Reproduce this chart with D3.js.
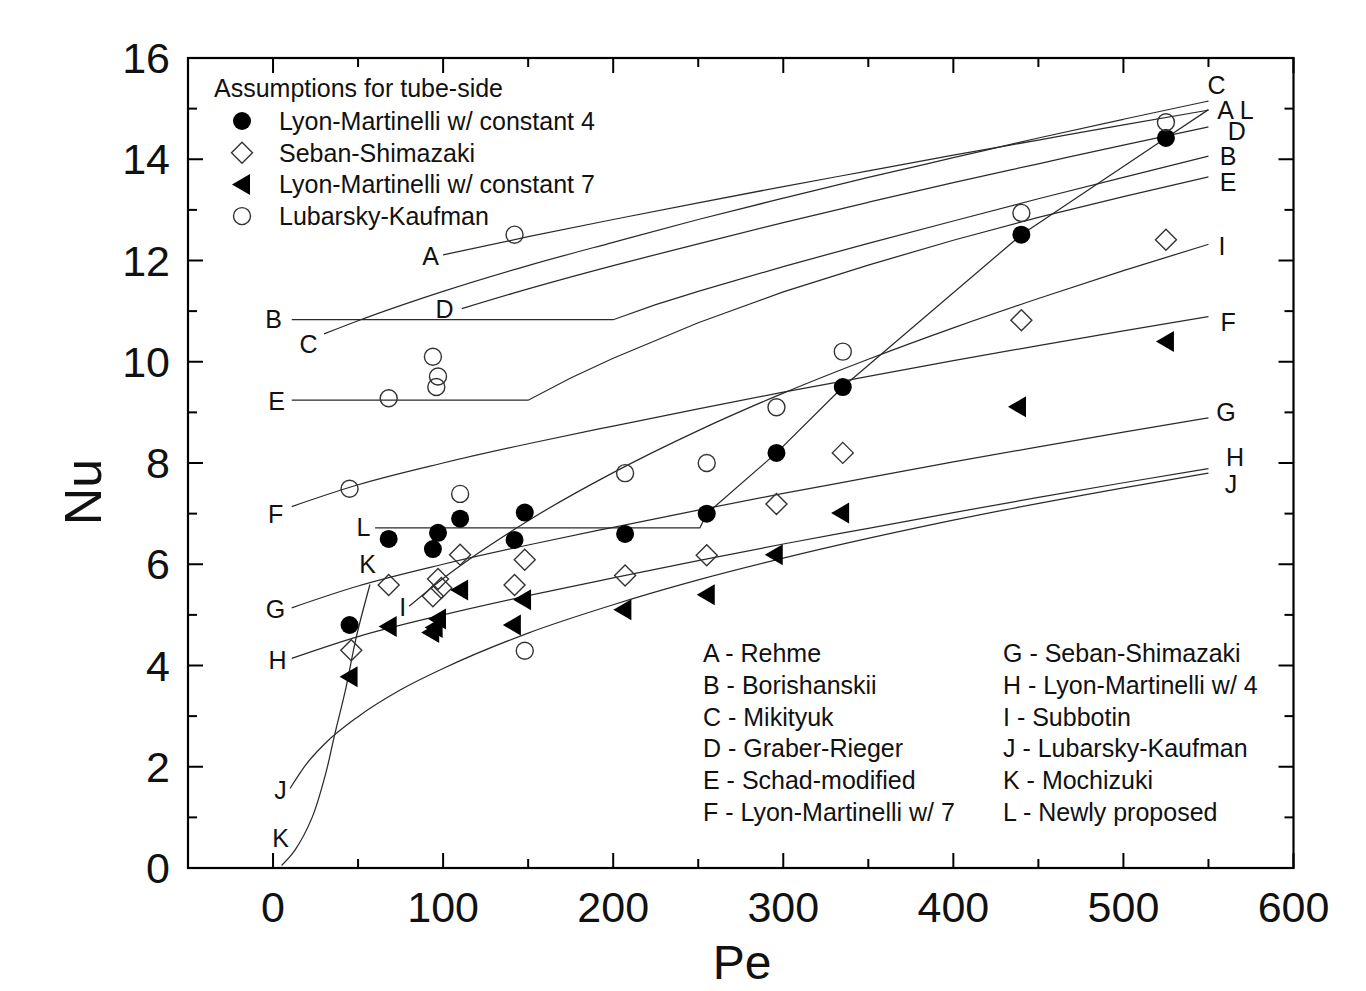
<!DOCTYPE html>
<html>
<head>
<meta charset="utf-8">
<script src="https://d3js.org/d3.v7.min.js"></script>
<style>
  body { margin: 0; background: #fff; }
  svg text { font-family: "Liberation Sans", Arial, sans-serif; fill: #111; }
</style>
</head>
<body>
<script>
// ---- data ----
// measured points (Pe, Nu)
let lm4Pts = [[45,4.8],[68,6.5],[94,6.3],[97,6.62],[110,6.9],[142,6.48],[148,7.02],[207,6.6],[255,7.0],[296,8.2],[335,9.5],[440,12.51],[525,14.42]];
let ssPts  = [[46,4.3],[68,5.59],[94,5.37],[97,5.71],[99,5.53],[110,6.19],[142,5.59],[148,6.09],[207,5.78],[255,6.18],[296,7.19],[335,8.2],[440,10.82],[525,12.41]];
let lm7Pts = [[45,3.78],[68,4.77],[93,4.65],[95,4.75],[97,4.92],[110,5.49],[141,4.8],[147,5.3],[206,5.1],[255,5.4],[295,6.19],[334,7.01],[438,9.11],[525,10.4]];
let lkPts  = [[45,7.49],[68,9.28],[94,10.1],[96,9.5],[97,9.71],[110,7.39],[142,12.51],[148,4.29],[207,7.8],[255,8.0],[296,9.1],[335,10.2],[440,12.94],[525,14.73]];

// correlation curves (Pe, Nu)
let curveA = [[100,12.11],[150,12.47],[200,12.81],[250,13.14],[300,13.46],[350,13.77],[400,14.08],[450,14.38],[500,14.68],[550,14.97]];
let curveB = [[11,10.83],[200,10.83],[225,11.13],[250,11.39],[300,11.88],[350,12.34],[400,12.78],[450,13.22],[500,13.64],[550,14.06]];
let curveC = [[30,10.55],[50,10.81],[100,11.39],[150,11.9],[200,12.36],[250,12.81],[300,13.23],[350,13.64],[400,14.03],[450,14.42],[500,14.79],[550,15.15]];
let curveD = [[111,11.05],[150,11.44],[200,11.9],[250,12.33],[300,12.75],[350,13.15],[400,13.54],[450,13.91],[500,14.28],[550,14.64]];
let curveE = [[11,9.24],[150,9.24],[175,9.68],[200,10.07],[250,10.77],[300,11.38],[350,11.91],[400,12.4],[450,12.85],[500,13.26],[550,13.65]];
let curveF = [[11,7.14],[50,7.57],[100,8.0],[150,8.38],[200,8.73],[250,9.07],[300,9.4],[350,9.71],[400,10.02],[450,10.32],[500,10.61],[550,10.89]];
let curveG = [[11,5.14],[50,5.57],[100,6.0],[150,6.38],[200,6.73],[250,7.07],[300,7.4],[350,7.71],[400,8.02],[450,8.32],[500,8.61],[550,8.89]];
let curveH = [[11,4.14],[50,4.57],[100,5.0],[150,5.38],[200,5.73],[250,6.07],[300,6.4],[350,6.71],[400,7.02],[450,7.32],[500,7.61],[550,7.89]];
let curveI = [[80,5.17],[100,5.72],[150,6.86],[200,7.81],[250,8.64],[300,9.38],[350,10.05],[400,10.67],[450,11.25],[500,11.8],[550,12.32]];
let curveJ = [[10,1.57],[20,2.07],[30,2.44],[50,2.99],[75,3.52],[100,3.94],[150,4.64],[200,5.2],[250,5.69],[300,6.12],[400,6.87],[500,7.51],[550,7.8]];
let curveK = [[5,0.05],[13,0.36],[23,1.0],[31,1.87],[36,2.6],[43,3.58],[49,4.57],[57,5.6]];
let curveL = [[60,6.72],[251,6.72],[255,7.0],[296,8.2],[335,9.5],[440,12.51],[525,14.42],[550,14.98]];

// curve letters at their ends (Pe, Nu)
let startLabels = [["A",92.6,12.09],["B",0.3,10.85],["C",20.9,10.36],["D",100.9,11.05],["E",2.1,9.23],["F",1.5,7.0],
                   ["G",1.5,5.12],["H",2.6,4.11],["I",76.2,5.16],["J",4.4,1.54],["K",4.4,0.59],["K",55.6,6.01],["L",53.2,6.74]];
let endLabels = [["C",554.8,15.47],["A",560.1,14.98],["L",572.5,14.98],["D",566.6,14.55],["B",561.6,14.07],["E",561.6,13.56],
                 ["I",557.9,12.29],["F",561.5,10.79],["G",560.3,9.01],["H",565.6,8.12],["J",563.2,7.59]];

let xMajor = [0,100,200,300,400,500,600];
let xMinor = [-50,50,150,250,350,450,550];
let yMajor = [0,2,4,6,8,10,12,14,16];
let yMinor = [1,3,5,7,9,11,13,15];

let markerNames = ["Lyon-Martinelli w/ constant 4","Seban-Shimazaki","Lyon-Martinelli w/ constant 7","Lubarsky-Kaufman"];
let markerTypes = ["filledCircle","diamond","triangle","openCircle"];
let keyLeft  = ["A - Rehme","B - Borishanskii","C - Mikityuk","D - Graber-Rieger","E - Schad-modified","F - Lyon-Martinelli w/ 7"];
let keyRight = ["G - Seban-Shimazaki","H - Lyon-Martinelli w/ 4","I - Subbotin","J - Lubarsky-Kaufman","K - Mochizuki","L - Newly proposed"];

// ---- drawing ----
let width = 1366, height = 991;
let svg = d3.select("body").append("svg").attr("width", width).attr("height", height);

let x = d3.scaleLinear().domain([-50, 600]).range([188, 1293.5]);
let y = d3.scaleLinear().domain([0, 16]).range([868, 58]);

let line = d3.line().x(d => x(d[0])).y(d => y(d[1])).curve(d3.curveMonotoneX);
let lineStraight = d3.line().x(d => x(d[0])).y(d => y(d[1]));

let curves = svg.append("g").attr("fill", "none").attr("stroke", "#2a2a2a").attr("stroke-width", 1.25);
[curveA, curveC, curveD, curveF, curveG, curveH, curveI, curveJ].forEach(c => {
    curves.append("path").attr("d", line(c));
});
// B and E have a sharp corner where the constant part ends
[curveB, curveE, curveL].forEach(c => {
    curves.append("path").attr("d", lineStraight(c));
});
curves.append("path").attr("d", d3.line().x(d => x(d[0])).y(d => y(d[1])).curve(d3.curveCatmullRom)(curveK));

function markerPath(type, cx, cy) {
    if (type === "diamond") {
        let r = 10.5;
        return `M${cx},${cy - r}L${cx + r},${cy}L${cx},${cy + r}L${cx - r},${cy}Z`;
    }
    if (type === "triangle") {
        return `M${cx - 10},${cy}L${cx + 8},${cy - 10.5}L${cx + 8},${cy + 10.5}Z`;
    }
    let r = type === "filledCircle" ? 9 : 8.5;
    return `M${cx + r},${cy}A${r},${r} 0 1,1 ${cx - r},${cy}A${r},${r} 0 1,1 ${cx + r},${cy}Z`;
}
function markerStyle(sel, type) {
    if (type === "filledCircle" || type === "triangle") {
        sel.attr("fill", "#000").attr("stroke", "none");
    } else {
        sel.attr("fill", "#fff").attr("fill-opacity", 0).attr("stroke", "#333").attr("stroke-width", 1.4);
    }
}

let sets = [lm4Pts, ssPts, lm7Pts, lkPts];
sets.forEach((pts, i) => {
    let type = markerTypes[i];
    svg.append("g").selectAll("path")
        .data(pts)
        .join("path")
        .attr("d", d => markerPath(type, x(d[0]), y(d[1])))
        .call(markerStyle, type);
});

// curve letters
svg.append("g").selectAll("text")
    .data(startLabels.concat(endLabels))
    .join("text")
    .attr("x", d => x(d[1]))
    .attr("y", d => y(d[2]))
    .attr("text-anchor", "middle")
    .attr("dominant-baseline", "central")
    .attr("font-size", 25)
    .text(d => d[0]);

// frame + ticks
let frame = svg.append("g");
frame.append("rect")
    .attr("x", x(-50)).attr("y", y(16))
    .attr("width", x(600) - x(-50)).attr("height", y(0) - y(16))
    .attr("fill", "none").attr("stroke", "#000").attr("stroke-width", 2.2);

function ticks(vals, len) {
    let g = frame.append("g").attr("stroke", "#000").attr("stroke-width", 2);
    g.selectAll(".b").data(vals).join("line").attr("class", "b")
        .attr("x1", d => x(d)).attr("x2", d => x(d)).attr("y1", y(0)).attr("y2", y(0) - len);
    g.selectAll(".t").data(vals).join("line").attr("class", "t")
        .attr("x1", d => x(d)).attr("x2", d => x(d)).attr("y1", y(16)).attr("y2", y(16) + len);
}
function yticks(vals, len) {
    let g = frame.append("g").attr("stroke", "#000").attr("stroke-width", 2);
    g.selectAll(".l").data(vals).join("line").attr("class", "l")
        .attr("y1", d => y(d)).attr("y2", d => y(d)).attr("x1", x(-50)).attr("x2", x(-50) + len);
    g.selectAll(".r").data(vals).join("line").attr("class", "r")
        .attr("y1", d => y(d)).attr("y2", d => y(d)).attr("x1", x(600)).attr("x2", x(600) - len);
}
ticks(xMajor, 15); ticks(xMinor, 9);
yticks(yMajor, 15); yticks(yMinor, 9);

// tick labels
svg.append("g").selectAll("text").data(xMajor).join("text")
    .attr("x", d => x(d)).attr("y", 922)
    .attr("text-anchor", "middle").attr("font-size", 43)
    .text(d => d);
svg.append("g").selectAll("text").data(yMajor).join("text")
    .attr("x", 170).attr("y", d => y(d))
    .attr("text-anchor", "end").attr("dominant-baseline", "central").attr("font-size", 43)
    .text(d => d);

// axis titles
svg.append("text").attr("x", 742).attr("y", 979).attr("text-anchor", "middle").attr("font-size", 48).text("Pe");
svg.append("text").attr("transform", "translate(101,492) rotate(-90)").attr("text-anchor", "middle").attr("font-size", 52).text("Nu");

// legend of markers
let leg = svg.append("g");
leg.append("text").attr("x", 214).attr("y", 88).attr("dominant-baseline", "central").attr("font-size", 25).text("Assumptions for tube-side");
markerNames.forEach((name, i) => {
    let cy = 121 + i * 31.7;
    leg.append("path").attr("d", markerPath(markerTypes[i], 242, cy)).call(markerStyle, markerTypes[i]);
    leg.append("text").attr("x", 279).attr("y", cy).attr("dominant-baseline", "central").attr("font-size", 25).text(name);
});

// key of curve letters
let key = svg.append("g");
keyLeft.forEach((t, i) => {
    key.append("text").attr("x", 703).attr("y", 653 + i * 31.8).attr("dominant-baseline", "central").attr("font-size", 25).text(t);
});
keyRight.forEach((t, i) => {
    key.append("text").attr("x", 1003).attr("y", 653 + i * 31.8).attr("dominant-baseline", "central").attr("font-size", 25).text(t);
});
</script>
</body>
</html>
